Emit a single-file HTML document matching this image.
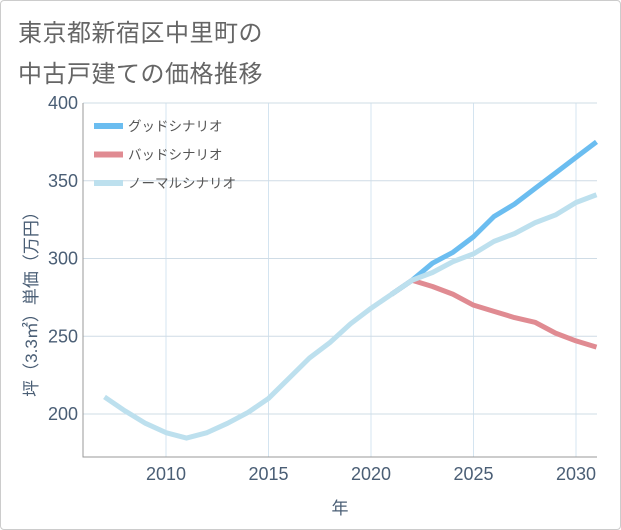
<!DOCTYPE html>
<html><head><meta charset="utf-8"><style>
html,body{margin:0;padding:0;background:#fff;}
#wrap{position:relative;width:619px;height:528px;border:1px solid #ccc;border-radius:4px;overflow:hidden;font-family:"Liberation Sans","Noto Sans CJK JP",sans-serif;}
.title{position:absolute;left:17px;font-size:24px;color:#666;letter-spacing:0.5px;}
</style></head><body>
<div id="wrap">
<div class="title" style="top:12px">東京都新宿区中里町の</div>
<div class="title" style="top:53px">中古戸建ての価格推移</div>
<svg id="chart" width="621" height="530" style="position:absolute;left:-1px;top:-1px"></svg>
</div>
<script>
const years=[2007,2008,2009,2010,2011,2012,2013,2014,2015,2016,2017,2018,2019,2020,2021,2022,2023,2024,2025,2026,2027,2028,2029,2030,2031];
const normalValues=[211,202,194,188,184.5,188,194,201,210,223,236,246,258,268,277,286,291,298,303,311,316,323,328,336,341];
const goodYears=[2021,2022,2023,2024,2025,2026,2027,2028,2029,2030,2031];
const goodValues=[277,286,297,304,314,327,335,345,355,365,375];
const badValues=[277,286,282,277,270,266,262,259,252,247,243];
const yTicks=[200,250,300,350,400];
const xTicks=[2010,2015,2020,2025,2030];
const NS="http://www.w3.org/2000/svg";
const svg=document.getElementById('chart');
const L=83,R=597,T=103,B=457;
const x=v=>166+(v-2010)*(576-166)/20;
const y=v=>414-(v-200)*(414-103)/200;
function mk(t,a){const e=document.createElementNS(NS,t);for(const k in a)e.setAttribute(k,a[k]);svg.appendChild(e);return e;}
xTicks.forEach(t=>{const l=mk('line',{x1:x(t),x2:x(t),y1:T,y2:B,stroke:'#d4e4f0','stroke-width':1});


const tx=mk('text',{x:x(t),y:480,'text-anchor':'middle','font-size':18,fill:'#4a5e75'});tx.textContent=t;

});
yTicks.forEach(t=>{const l=mk('line',{x1:L,x2:R,y1:y(t),y2:y(t),stroke:'#cfdce6','stroke-width':1});


const tx=mk('text',{x:78,y:y(t)+6,'text-anchor':'end','font-size':18,fill:'#4a5e75'});tx.textContent=t;

});
const ax=mk('path',{d:`M${L},${T}V${B}H${R}`,fill:'none',stroke:'#999','stroke-width':1});


function line(xs,vs,c,name){const p=mk('polyline',{points:xs.map((v,i)=>x(v)+','+y(vs[i])).join(' '),fill:'none',stroke:c,'stroke-width':5,'stroke-linejoin':'round'});

}
line(goodYears,badValues,'#e08b92','bad-scenario-line');
line(goodYears,goodValues,'#6bbdf0','good-scenario-line');
line(years,normalValues,'#bde0ee','normal-scenario-line');
const leg=[['グッドシナリオ','#6bbdf0'],['バッドシナリオ','#e08b92'],['ノーマルシナリオ','#bde0ee']];
leg.forEach((d,i)=>{const yy=126+i*28.5;
const r=mk('rect',{x:94,y:yy-3,width:29,height:6,fill:d[1]});


const t=mk('text',{x:128,y:yy+5,'font-size':13.5,fill:'#555'});t.textContent=d[0];

});
const xt=mk('text',{x:340,y:514,'text-anchor':'middle','font-size':17,fill:'#4a5e75'});xt.textContent='年';


const yt=mk('text',{x:0,y:0,'text-anchor':'middle','font-size':17,fill:'#4a5e75',transform:'translate(37,300) rotate(-90)'});yt.textContent='坪（3.3㎡）単価（万円）';


</script>
</body></html>
